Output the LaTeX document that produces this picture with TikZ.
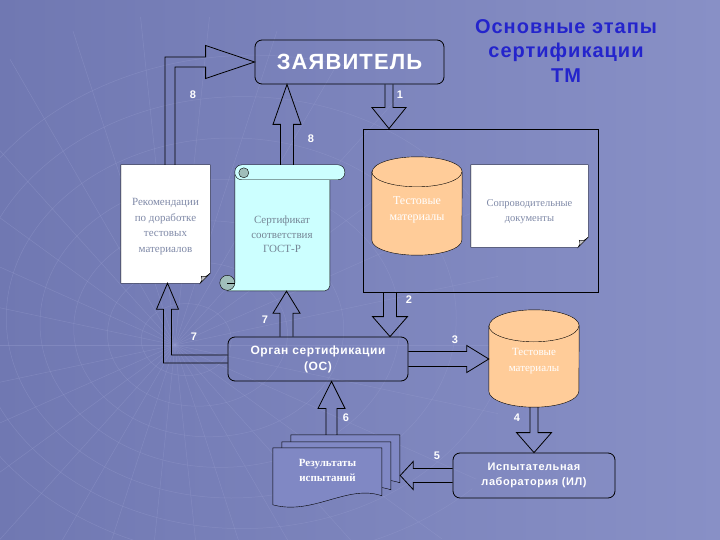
\documentclass[tikz,border=0pt]{standalone}
\usepackage{fontspec}
\setmainfont{Liberation Serif}
\newfontfamily\hdfont[LetterSpace=5]{Liberation Sans}
\usetikzlibrary{calc}

\pgfdeclarelayer{back}
\pgfsetlayers{back,main}

\definecolor{bgL}{RGB}{112,120,178}
\definecolor{bgR}{RGB}{136,144,198}
\definecolor{gridc}{RGB}{150,156,206}
\definecolor{tmorange}{RGB}{255,204,153}
\definecolor{certcyan}{RGB}{204,255,255}
\definecolor{curlgray}{RGB}{160,190,186}
\definecolor{docgray}{RGB}{128,138,168}
\definecolor{certgray}{RGB}{118,134,150}
\definecolor{titleblue}{RGB}{36,36,204}
\definecolor{resfill}{RGB}{128,136,196}
\definecolor{foldgray}{RGB}{196,196,200}

% hollow block arrow: start, tip, half shaft, half head, head length
\newcommand{\blkarrow}[5]{%
  \coordinate (hb) at ($(#2)!#5!(#1)$);
  \draw[blk] ($(#1)!#3!90:(#2)$) -- ($(hb)!#3!-90:(#1)$) -- ($(hb)!#4!-90:(#1)$) -- (#2)
    -- ($(hb)!#4!90:(#1)$) -- ($(hb)!#3!90:(#1)$) -- ($(#1)!#3!-90:(#2)$);
}
% same with one corner: start, corner, tip, half shaft, half head, head length
\newcommand{\blkelbow}[6]{%
  \coordinate (hb) at ($(#3)!#6!(#2)$);
  \draw[blk] ($(#1)!#4!90:(#2)$) -- ($(#2)!#4!90:(#3)+(#2)!#4!-90:(#1)-(#2)$)
    -- ($(hb)!#4!-90:(#2)$) -- ($(hb)!#5!-90:(#2)$) -- (#3) -- ($(hb)!#5!90:(#2)$)
    -- ($(hb)!#4!90:(#2)$) -- ($(#2)!#4!-90:(#3)+(#2)!#4!90:(#1)-(#2)$) -- ($(#1)!#4!-90:(#2)$);
}
% orange cylinder in a node: name, x radius, y radius
\newcommand{\tmcyl}[3]{%
  \filldraw[fill=tmorange,draw=black] ($(#1.north west)+(0,#3)$) -- ($(#1.south west)+(0,-#3)$)
    arc[start angle=180,end angle=0,x radius=#2,y radius=#3] -- ($(#1.north east)+(0,#3)$)
    arc[start angle=0,end angle=-180,x radius=#2,y radius=#3] -- cycle;
  \draw ($(#1.north west)+(0,#3)$) arc[start angle=180,end angle=0,x radius=#2,y radius=#3];
}
% white sheet with folded corner
\newcommand{\foldeddoc}[1]{%
  \filldraw[fill=white,draw=black] (#1.north west) -- (#1.north east) -- ([yshift=10pt]#1.south east)
    -- ([xshift=-10pt]#1.south east) -- (#1.south west) -- cycle;
  \filldraw[fill=foldgray,draw=black] ([yshift=10pt]#1.south east) .. controls ([xshift=-5pt,yshift=6pt]#1.south east)
    .. ([xshift=-9pt,yshift=7pt]#1.south east) .. controls ([xshift=-8pt,yshift=3pt]#1.south east)
    .. ([xshift=-10pt]#1.south east) -- cycle;
}

\begin{document}
\begin{tikzpicture}[x=1pt,y=-1pt,
    blk/.style={draw=black,line width=0.8pt},
    rbox/.style={draw=black,line width=0.8pt,rounded corners=7pt,text=white,align=center,inner sep=0pt},
    shp/.style={inner sep=0pt},
    num/.style={text=white,font=\hdfont\bfseries\fontsize{11}{13}\selectfont,inner sep=0pt},
    doctext/.style={text=docgray,align=center,inner sep=0pt},
    cyltext/.style={text=white,align=center,inner sep=0pt}]
  \useasboundingbox (0,0) rectangle (720,540);

  \node[rbox,minimum width=189,minimum height=44,font=\hdfont\bfseries\fontsize{22}{24}\selectfont] (zv) at (349.5,62) {ЗАЯВИТЕЛЬ};
  \node[text=titleblue,align=center,inner sep=0pt,font=\hdfont\bfseries\fontsize{20}{24.5}\selectfont] (ttl) at (566,51) {Основные этапы\\сертификации\\ТМ};

  \node[draw=black,line width=0.8pt,minimum width=235,minimum height=163,inner sep=0pt] (grp) at (480.5,210.5) {};
  \node[shp,minimum width=90,minimum height=98] (tm1) at (417,206) {};
  \node[cyltext,font=\fontsize{12}{16}\selectfont] (tm1t) at (417,210) {Тестовые\\материалы};
  \node[shp,minimum width=117,minimum height=82] (sop) at (529.5,206) {};
  \node[doctext,font=\fontsize{10.5}{15}\selectfont] (sopt) at (529.5,212) {Сопроводительные\\документы};

  \node[shp,minimum width=89,minimum height=118] (rek) at (165.5,224) {};
  \node[doctext,font=\fontsize{11}{15.5}\selectfont] (rekt) at (165.5,226.5) {Рекомендации\\по доработке\\тестовых\\материалов};
  \node[shp,minimum width=125,minimum height=126] (cert) at (282.5,228) {};
  \node[doctext,text=certgray,font=\fontsize{11}{14.5}\selectfont] (certt) at (282,234.5) {Сертификат\\соответствия\\ГОСТ-Р};

  \node[rbox,minimum width=180,minimum height=44,font=\hdfont\bfseries\fontsize{12}{16}\selectfont] (os) at (318,359) {Орган сертификации\\(ОС)};
  \node[shp,minimum width=90,minimum height=97] (tm2) at (534,358.5) {};
  \node[cyltext,font=\fontsize{11}{16}\selectfont] (tm2t) at (534,361.5) {Тестовые\\материалы};
  \node[rbox,minimum width=162,minimum height=45,font=\hdfont\bfseries\fontsize{11}{15.5}\selectfont] (il) at (534,475.5) {Испытательная\\лаборатория (ИЛ)};
  \node[shp,minimum width=109,minimum height=57] (res) at (327.5,476.5) {};
  \node[cyltext,font=\bfseries\fontsize{11}{15}\selectfont] (rest) at (327.5,470) {Результаты\\испытаний};

  % arrows
  \coordinate (a8s) at (170,0 |- rek.north);
  \coordinate (a8c) at (170,0 |- zv.west);
  \blkelbow{a8s}{a8c}{zv.west}{5pt}{16.5pt}{49pt}
  \coordinate (a1s) at (389,0 |- zv.south);
  \coordinate (a1t) at (389,0 |- grp.north);
  \blkarrow{a1s}{a1t}{4pt}{17pt}{21pt}
  \coordinate (a8ms) at (287,0 |- cert.north);
  \coordinate (a8mt) at (287,0 |- zv.south);
  \blkarrow{a8ms}{a8mt}{6.5pt}{14pt}{40pt}
  \coordinate (a2s) at (390,0 |- grp.south);
  \coordinate (a2t) at (390,0 |- os.north);
  \blkarrow{a2s}{a2t}{6.5pt}{17.5pt}{20pt}
  \coordinate (a7ms) at (286.5,0 |- os.north);
  \coordinate (a7mt) at (286.5,0 |- cert.south);
  \blkarrow{a7ms}{a7mt}{6.5pt}{13.5pt}{22pt}
  \coordinate (a7c) at (167.5,0 |- os.west);
  \coordinate (a7t) at (167.5,0 |- rek.south);
  \blkelbow{os.west}{a7c}{a7t}{4pt}{11pt}{26pt}
  \coordinate (a3t) at (os.east -| tm2.west);
  \blkarrow{os.east}{a3t}{7.5pt}{13.5pt}{22pt}
  \coordinate (a4t) at (tm2.south |- il.north);
  \blkarrow{tm2.south}{a4t}{4pt}{17.5pt}{20pt}
  \coordinate (a5t) at ($(il.west -| res.east)+(18,0)$);
  \blkarrow{il.west}{a5t}{7pt}{14pt}{13pt}
  \coordinate (a6s) at ($(res.north)+(4,-13)$);
  \coordinate (a6t) at (a6s |- os.south);
  \blkarrow{a6s}{a6t}{5.5pt}{13.5pt}{27pt}

  \node[num] (n8a) at (193,95) {8};
  \node[num] (n1) at (400,95) {1};
  \node[num] (n8b) at (311,139) {8};
  \node[num] (n2) at (409,300) {2};
  \node[num] (n7a) at (265,320) {7};
  \node[num] (n7b) at (194,337) {7};
  \node[num] (n3) at (455,340) {3};
  \node[num] (n6) at (346,418) {6};
  \node[num] (n4) at (517,418) {4};
  \node[num] (n5) at (437,456) {5};

  \begin{pgfonlayer}{back}
    \shade[left color=bgL,right color=bgR] (0,0) rectangle (720,540);
    % faint globe in the background
    \begin{scope}[draw=gridc,line width=0.5pt,opacity=0.4]
      \clip (175,345) circle (330);
      \foreach \a in {0,12,...,348}
        \draw (175,345) -- ++(\a:330);
      \foreach \r in {45,90,...,315}
        \draw (175+0.25*\r,345-0.12*\r) ellipse [x radius=\r,y radius=0.8*\r];
    \end{scope}
    \tmcyl{tm1}{45}{15}
    \tmcyl{tm2}{45}{16}
    \foldeddoc{rek}
    \foldeddoc{sop}
    % scroll
    \begin{scope}[shift={(cert.north west)}]
      \filldraw[fill=certcyan,draw=black] (15,10) -- (15,118) -- (7.5,126)
        {[rounded corners=5pt] -- (110,126) -- (110,10)} -- cycle;
      \filldraw[fill=certcyan,draw=black,rounded corners=7pt] (15,0) rectangle (125,15);
      \filldraw[fill=curlgray,draw=black] (24,8) circle (5);
      \filldraw[fill=curlgray,draw=black] (7.5,118) circle (7.5);
      \draw (7.5,118) -- (15,118);
    \end{scope}
    % stack of result sheets
    \begin{scope}[shift={(res.north west)}]
      \foreach \dx/\dy in {18/-13,9/-6,0/0}
        \filldraw[fill=resfill,draw=black,shift={(\dx,\dy)}] (0,57) -- (0,0) -- (109,0) -- (109,48)
          .. controls (75,36) and (40,68) .. (0,57) -- cycle;
    \end{scope}
  \end{pgfonlayer}
\end{tikzpicture}
\end{document}
